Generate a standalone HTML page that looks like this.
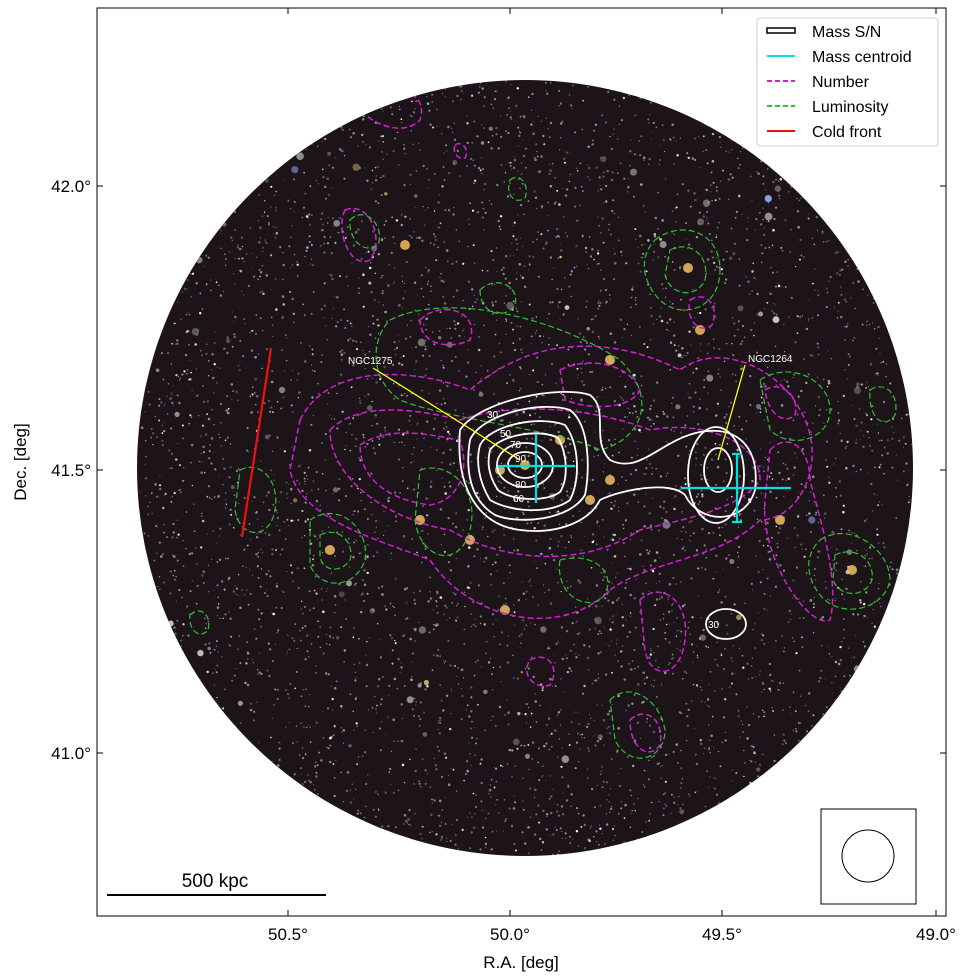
<!DOCTYPE html>
<html><head><meta charset="utf-8"><style>
body{margin:0;background:#fff;width:970px;height:980px;overflow:hidden}
svg{display:block;font-family:"Liberation Sans","DejaVu Sans",sans-serif}
</style></head><body>
<svg id="s" width="970" height="980" viewBox="0 0 970 980">
<defs><clipPath id="c"><circle cx="525" cy="468" r="388"/></clipPath></defs>
<circle cx="525" cy="468" r="388" fill="#1c1419"/>
<g id="stars" clip-path="url(#c)"></g>
<g clip-path="url(#c)" fill="none" stroke-width="1.5">
<g stroke="#d020d0" stroke-dasharray="6,3">
<path d="M300,420 C330,360 420,370 470,390 C540,330 620,340 680,370 C720,340 780,370 800,410 C830,460 800,520 760,520 C720,560 650,560 610,590 C560,640 470,620 430,560 C380,540 300,520 290,470 Z"/>
<path d="M330,430 C360,400 420,410 460,420 C520,400 600,410 650,430 C700,420 760,440 760,480 C740,510 680,520 640,530 C580,570 500,560 450,530 C390,520 330,480 330,430 Z"/>
<path d="M360,445 C390,425 430,435 460,440 C470,470 460,500 430,505 C390,500 360,480 360,445 Z"/>
<path d="M560,370 C590,355 630,365 640,390 C630,410 590,410 565,400 Z"/>
<path d="M640,600 C660,580 690,600 685,640 C680,680 650,680 645,650 Z"/>
<path d="M345,210 C370,200 385,240 370,260 C350,270 335,230 345,210 Z"/>
<path d="M420,320 C440,300 480,310 470,340 C450,350 420,345 420,320 Z"/>
<path d="M770,450 C790,430 810,450 810,480 C820,520 840,580 830,620 C810,630 760,560 765,500 Z"/>
<path d="M530,660 C550,650 560,670 550,685 C535,690 520,675 530,660 Z"/>
<path d="M350,95 C390,80 430,90 420,120 C400,140 360,120 350,95 Z"/>
<path d="M455,145 C462,140 470,150 465,158 C458,160 452,152 455,145 Z"/>
<path d="M690,300 C705,290 720,305 712,325 C700,335 685,320 690,300 Z"/>
<path d="M765,390 C780,380 800,395 795,415 C785,425 768,415 765,390 Z"/>
<path d="M630,720 C645,705 665,720 660,745 C650,760 630,750 630,720 Z"/>
</g>
<g stroke="#30c030" stroke-dasharray="6,3" stroke-width="1.2">
<path d="M655,240 C680,220 720,230 720,270 C720,310 680,320 660,300 C640,280 640,255 655,240 Z"/>
<path d="M670,250 C690,240 710,255 705,280 C695,300 670,295 665,275 Z"/>
<path d="M820,540 C850,520 890,550 890,580 C885,610 840,620 820,595 C805,575 805,555 820,540 Z"/>
<path d="M835,555 C855,545 875,560 872,580 C865,598 840,598 833,580 Z"/>
<path d="M310,520 C340,500 370,530 365,560 C355,590 320,590 310,565 Z"/>
<path d="M320,535 C340,525 355,545 350,560 C340,575 320,570 320,555 Z"/>
<path d="M240,470 C260,460 280,480 275,510 C270,540 240,540 235,510 Z"/>
<path d="M610,700 C630,680 660,700 665,730 C665,760 630,770 615,740 Z"/>
<path d="M390,320 C450,290 560,320 620,360 C660,400 640,440 600,450 C560,430 450,420 400,400 C370,380 370,340 390,320 Z"/>
<path d="M760,380 C790,360 830,380 830,410 C830,440 790,450 770,430 Z"/>
<path d="M480,290 C495,275 520,285 515,305 C505,320 480,315 480,290 Z"/>
<path d="M870,390 C885,380 900,395 895,415 C885,430 868,420 870,390 Z"/>
<path d="M350,220 C365,205 385,225 378,245 C365,255 348,240 350,220 Z"/>
<path d="M510,180 C520,172 530,185 525,198 C515,205 505,195 510,180 Z"/>
<path d="M420,470 C450,460 480,490 470,530 C460,570 420,560 415,520 Z"/>
<path d="M560,560 C600,550 620,580 600,600 C580,610 555,590 560,560 Z"/>
<path d="M190,615 C200,605 212,615 208,630 C200,640 188,630 190,615 Z"/>
</g>
<g stroke="#fff" stroke-width="1.8">
<path d="M460,430 C480,400 560,385 590,395 C610,410 590,440 610,460 C640,475 660,440 700,432 C740,425 760,450 755,490 C745,525 700,525 685,495 C670,480 620,490 600,500 C590,520 560,535 520,530 C480,525 455,490 460,430 Z"/>
<path d="M470,440 C480,415 540,400 570,410 C590,425 590,470 585,495 C570,520 520,525 495,515 C470,500 465,470 470,440 Z"/>
<path d="M480,445 C490,425 540,415 565,425 C580,445 580,480 570,500 C550,515 510,512 490,500 C478,480 476,460 480,445 Z"/>
<path d="M490,450 C500,435 540,428 558,438 C568,455 568,480 560,492 C545,503 510,500 498,490 C488,475 487,462 490,450 Z"/>
<ellipse cx="525" cy="465" rx="28" ry="22"/>
<ellipse cx="525" cy="465" rx="17" ry="13"/>
<ellipse cx="716" cy="475" rx="28" ry="48"/>
<ellipse cx="718" cy="470" rx="14" ry="22"/>
<ellipse cx="726" cy="624" rx="20" ry="15"/>
</g>
<g stroke="#00e0e0" stroke-width="2.2">
<line x1="498" y1="466" x2="575" y2="466"/><line x1="536" y1="434" x2="536" y2="503"/>
<line x1="681" y1="488" x2="791" y2="488"/><line x1="737" y1="454" x2="737" y2="522"/>
<line x1="732" y1="454" x2="742" y2="454"/><line x1="732" y1="522" x2="742" y2="522"/>
</g>
<g stroke="#ffff00" stroke-width="1.3"><line x1="373" y1="368" x2="520" y2="460"/><line x1="745" y1="365" x2="718" y2="460"/></g>
<line x1="271" y1="348" x2="242" y2="537" stroke="#f01010" stroke-width="2.2"/>
<g fill="#fff" font-size="10" stroke="none"><text x="348" y="364">NGC1275</text><text x="748" y="362">NGC1264</text>
<text x="487" y="418">30</text><text x="500" y="437">50</text><text x="510" y="448">70</text><text x="515" y="462">90</text><text x="515" y="488">80</text><text x="513" y="502">60</text><text x="708" y="628">30</text></g>
</g>
<rect x="97" y="8" width="849" height="908" fill="none" stroke="#000" stroke-width="1"/>
<g stroke="#000" stroke-width="1">
<line x1="288" y1="916" x2="288" y2="910"/><line x1="510" y1="916" x2="510" y2="910"/><line x1="722" y1="916" x2="722" y2="910"/><line x1="936" y1="916" x2="936" y2="910"/>
<line x1="288" y1="8" x2="288" y2="14"/><line x1="510" y1="8" x2="510" y2="14"/><line x1="722" y1="8" x2="722" y2="14"/><line x1="936" y1="8" x2="936" y2="14"/>
<line x1="97" y1="186" x2="103" y2="186"/><line x1="97" y1="470" x2="103" y2="470"/><line x1="97" y1="753" x2="103" y2="753"/>
<line x1="946" y1="186" x2="940" y2="186"/><line x1="946" y1="470" x2="940" y2="470"/><line x1="946" y1="753" x2="940" y2="753"/>
<line x1="107" y1="895" x2="326" y2="895" stroke-width="2"/>
</g>
<g font-size="17" fill="#000">
<text x="288" y="940" text-anchor="middle">50.5°</text><text x="510" y="940" text-anchor="middle">50.0°</text><text x="722" y="940" text-anchor="middle">49.5°</text><text x="936" y="940" text-anchor="middle">49.0°</text>
<text x="91" y="192" text-anchor="end">42.0°</text><text x="91" y="476" text-anchor="end">41.5°</text><text x="91" y="759" text-anchor="end">41.0°</text>
<text x="521" y="968" text-anchor="middle">R.A. [deg]</text>
<text transform="translate(26,462) rotate(-90)" text-anchor="middle">Dec. [deg]</text>
<text x="215" y="887" text-anchor="middle" font-size="19">500 kpc</text>
</g>
<rect x="821" y="809" width="95" height="95" fill="#fff" stroke="#000"/>
<circle cx="868" cy="856" r="26" fill="none" stroke="#000"/>
<rect x="757" y="18" width="181" height="128" rx="3" fill="#fff" stroke="#ccc"/>
<g stroke-width="2">
<rect x="767" y="28" width="28" height="5" fill="#fff" stroke="#000" stroke-width="1.5"/>
<line x1="767" y1="56" x2="795" y2="56" stroke="#00e0e0"/>
<line x1="767" y1="81" x2="795" y2="81" stroke="#d020d0" stroke-dasharray="5,3"/>
<line x1="767" y1="106" x2="795" y2="106" stroke="#30c030" stroke-dasharray="5,3"/>
<line x1="767" y1="131" x2="795" y2="131" stroke="#f01010"/>
</g>
<g font-size="16" fill="#000"><text x="812" y="37">Mass S/N</text><text x="812" y="62">Mass centroid</text><text x="812" y="87">Number</text><text x="812" y="112">Luminosity</text><text x="812" y="137">Cold front</text></g>
</svg>
<script>
var g=document.getElementById('stars'),h='',s=7;function r(){s=(s*16807)%2147483647;return s/2147483647;}
for(var i=0;i<6000;i++){var x=137+r()*776,y=80+r()*776,q=r();var c=q<0.7?'#999':q<0.9?'#fff':q<0.96?'#e8c070':'#9bb8ff';var rad=r()<0.98?0.5+r()*0.8:1.5+r()*2.5;h+='<circle cx="'+x.toFixed(1)+'" cy="'+y.toFixed(1)+'" r="'+rad.toFixed(1)+'" fill="'+c+'" opacity="'+(0.4+r()*0.6).toFixed(2)+'"/>';}
var gal=[[525,465],[500,470],[560,440],[590,500],[505,610],[330,550],[688,268],[852,570],[470,540],[420,520],[610,360],[780,520],[405,245],[610,480],[700,330]];
gal.forEach(function(p){h+='<circle cx="'+p[0]+'" cy="'+p[1]+'" r="5" fill="#f0c060" opacity="0.85"/>';});
g.innerHTML=h;
</script>
</body></html>
